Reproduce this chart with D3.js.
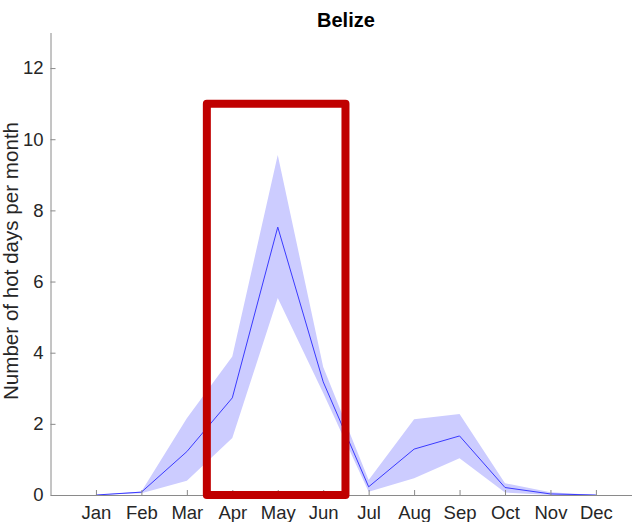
<!DOCTYPE html>
<html>
<head>
<meta charset="utf-8">
<script src="https://cdn.jsdelivr.net/npm/d3@7"></script>
<style>
  body { margin: 0; background: #fff; }
  svg { display: block; font-family: "Liberation Sans", Arial, Helvetica, sans-serif; }
</style>
</head>
<body>
<div id="visualization"></div>
<script>
const months = ["Jan", "Feb", "Mar", "Apr", "May", "Jun", "Jul", "Aug", "Sep", "Oct", "Nov", "Dec"];
const meanDays  = [0, 0.08, 1.22, 2.73, 7.53, 3.18, 0.23, 1.29, 1.66, 0.21, 0.03, 0];
const upperDays = [0, 0.10, 2.16, 3.89, 9.56, 3.60, 0.42, 2.13, 2.28, 0.33, 0.08, 0];
const lowerDays = [0, 0.05, 0.40, 1.60, 5.54, 2.87, 0.09, 0.47, 1.03, 0.07, 0.00, 0];
const yTicks = [0, 2, 4, 6, 8, 10, 12];
// highlighted window (month position, value)
const boxMonths = [3.44, 6.49];
const boxValues = [0, 11];

const width = 632;
const height = 522;
const margin = {top: 32.5, left: 50.5, bottom: 27};

const svg = d3.select("#visualization")
    .append("svg")
    .attr("width", width)
    .attr("height", height);

const x = d3.scaleLinear().domain([0, 13]).range([margin.left, margin.left + 13 * 45.45]);
const y = d3.scaleLinear().domain([0, 13]).range([height - margin.bottom, margin.top]);

const data = months.map((m, i) => ({i: i + 1, m: m, mean: meanDays[i], hi: upperDays[i], lo: lowerDays[i]}));

// band
svg.append("path")
    .datum(data)
    .attr("fill", "#ccccff")
    .attr("d", d3.area()
        .x(d => x(d.i))
        .y0(d => y(d.lo))
        .y1(d => y(d.hi)));

// mean line
svg.append("path")
    .datum(data)
    .attr("fill", "none")
    .attr("stroke", "#3a3aff")
    .attr("stroke-width", 1)
    .attr("d", d3.line()
        .x(d => x(d.i))
        .y(d => y(d.mean)));

// axes
const xAxis = svg.append("g")
    .attr("transform", `translate(0, ${y(0)})`)
    .call(d3.axisBottom(x)
        .tickValues(d3.range(1, 13))
        .tickFormat(d => months[d - 1])
        .tickSizeInner(-5)
        .tickSizeOuter(0)
        .tickPadding(11));

const yAxis = svg.append("g")
    .attr("transform", `translate(${x(0)}, 0)`)
    .call(d3.axisLeft(y)
        .tickValues(yTicks)
        .tickSizeInner(-5)
        .tickSizeOuter(0)
        .tickPadding(7));

[xAxis, yAxis].forEach(g => {
    g.select(".domain").attr("stroke", "#8a8a8a");
    g.selectAll(".tick line").attr("stroke", "#8a8a8a");
    g.selectAll(".tick text")
        .attr("fill", "#262626")
        .style("font-size", "18.5px")
        .style("font-family", "'Liberation Sans', Arial, Helvetica, sans-serif");
});

// red highlight box
svg.append("rect")
    .attr("x", x(boxMonths[0]))
    .attr("y", y(boxValues[1]))
    .attr("width", x(boxMonths[1]) - x(boxMonths[0]))
    .attr("height", y(boxValues[0]) - y(boxValues[1]))
    .attr("fill", "none")
    .attr("stroke", "#c00000")
    .attr("stroke-width", 8)
    .attr("stroke-linejoin", "round");

// title
svg.append("text")
    .attr("x", (x(0) + x(13)) / 2)
    .attr("y", 26.7)
    .attr("text-anchor", "middle")
    .style("font-size", "20px")
    .style("font-weight", "bold")
    .attr("fill", "#000")
    .text("Belize");

// y label
svg.append("text")
    .attr("transform", "translate(18, 261) rotate(-90)")
    .attr("text-anchor", "middle")
    .style("font-size", "20.6px")
    .attr("fill", "#262626")
    .text("Number of hot days per month");
</script>
</body>
</html>
